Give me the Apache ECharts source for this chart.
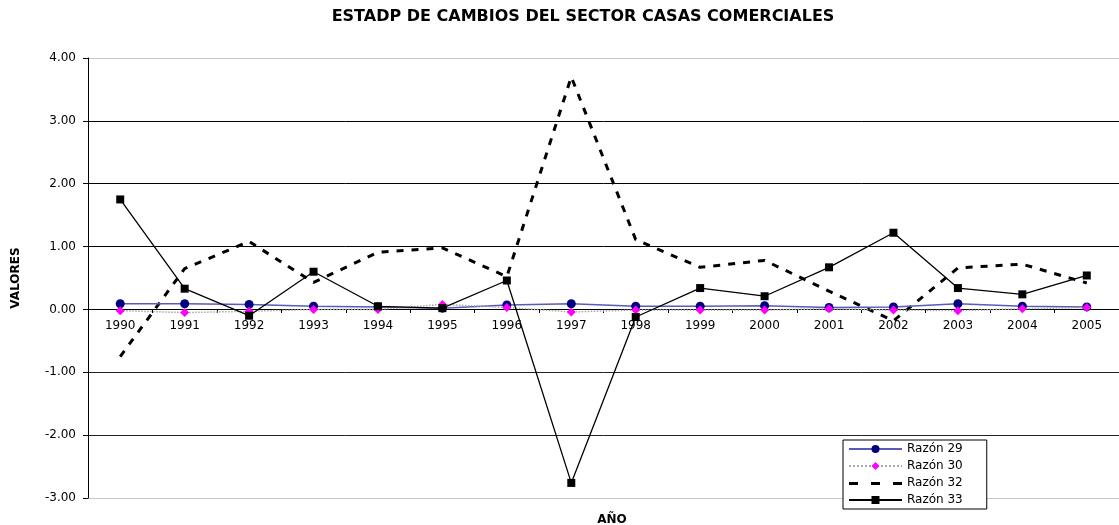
<!DOCTYPE html>
<html>
<head>
<meta charset="utf-8">
<script src="https://cdn.jsdelivr.net/npm/echarts@6/dist/echarts.min.js"></script>
<style>
  html, body { margin: 0; padding: 0; background: #fff; }
  #chart { width: 1119px; height: 525px; }
</style>
</head>
<body>
<div id="chart"></div>
<script>
const years = ['1990', '1991', '1992', '1993', '1994', '1995', '1996', '1997',
  '1998', '1999', '2000', '2001', '2002', '2003', '2004', '2005'];
const razon29 = [0.09, 0.09, 0.08, 0.05, 0.04, 0.02, 0.07, 0.09, 0.05, 0.05, 0.06, 0.03, 0.04, 0.09, 0.05, 0.04];
const razon30 = [-0.02, -0.05, -0.03, 0.00, 0.00, 0.08, 0.03, -0.04, -0.01, -0.01, -0.01, 0.01, -0.01, -0.02, 0.01, 0.03];
const razon32 = [-0.75, 0.65, 1.08, 0.43, 0.91, 0.98, 0.52, 3.70, 1.11, 0.67, 0.78, 0.29, -0.18, 0.66, 0.72, 0.42];
const razon33 = [1.75, 0.33, -0.10, 0.60, 0.05, 0.02, 0.46, -2.76, -0.12, 0.34, 0.21, 0.67, 1.22, 0.34, 0.24, 0.54];

const FONT = 'DejaVu Sans';
// dashed legend icon, with tiny corner specks so the path keeps its box
const dashIcon = 'path://M0,0h0.1v0.1h-0.1z M0,4h9v3h-9z M22,4h9v3h-9z M44,4h9v3h-9z M52.9,9.9h0.1v0.1h-0.1z';

const chart = echarts.init(document.getElementById('chart'));

const option = {
  backgroundColor: '#fff',
  animation: false,
  textStyle: { fontFamily: FONT },
  title: [
    {
      text: 'ESTADP DE CAMBIOS DEL SECTOR CASAS COMERCIALES',
      left: 578,
      top: 4,
      textAlign: 'center',
      textStyle: { fontFamily: FONT, fontSize: 16, fontWeight: 'bold', color: '#000' }
    },
    {
      text: 'AÑO',
      left: 607,
      top: 509,
      textAlign: 'center',
      textStyle: { fontFamily: FONT, fontSize: 12, fontWeight: 'bold', color: '#000' }
    }
  ],
  grid: {
    left: 88,
    top: 58,
    width: 1039,
    height: 440,
    containLabel: false
  },
  legend: {
    orient: 'vertical',
    left: 843,
    top: 440,
    padding: [3, 24, 3, 5],
    itemGap: 5,
    itemWidth: 53,
    itemHeight: 10,
    borderColor: '#000',
    borderWidth: 1,
    backgroundColor: '#fff',
    textStyle: { fontFamily: FONT, fontSize: 12, color: '#000', lineHeight: 12 },
    data: [
      { name: 'Razón 29' },
      { name: 'Razón 30' },
      { name: 'Razón 32', icon: dashIcon, itemStyle: { color: '#000' } },
      { name: 'Razón 33' }
    ]
  },
  xAxis: {
    type: 'category',
    data: years,
    boundaryGap: true,
    position: 'bottom',
    offset: -189,
    axisLine: { onZero: false, lineStyle: { color: '#000', width: 1 } },
    axisTick: { show: true, length: 4, inside: false, alignWithLabel: false, lineStyle: { color: '#000' } },
    axisLabel: { color: '#000', fontFamily: FONT, fontSize: 12, margin: 11, interval: 0 },
    splitLine: { show: false }
  },
  yAxis: {
    type: 'value',
    min: -3,
    max: 4,
    interval: 1,
    name: 'VALORES',
    nameLocation: 'middle',
    nameRotate: 90,
    nameGap: 66,
    nameTextStyle: { fontFamily: FONT, fontSize: 12, fontWeight: 'bold', color: '#000' },
    axisLine: { show: true, lineStyle: { color: '#000', width: 1 } },
    axisTick: { show: true, length: 5, lineStyle: { color: '#000' } },
    axisLabel: {
      color: '#000',
      fontFamily: FONT,
      fontSize: 12,
      margin: 12,
      formatter: v => v.toFixed(2)
    },
    splitLine: {
      show: true,
      lineStyle: {
        color: ['#c8c8c8', '#222', '#222', '#000', '#000', '#000', '#000', '#c8c8c8'],
        width: 1
      }
    }
  },
  series: [
    {
      name: 'Razón 29',
      type: 'line',
      data: razon29,
      symbol: 'circle',
      symbolSize: 9,
      itemStyle: { color: '#000080' },
      lineStyle: { color: '#5a5ab8', width: 1.5 },
      z: 3
    },
    {
      name: 'Razón 30',
      type: 'line',
      data: razon30,
      symbol: 'diamond',
      symbolSize: 9,
      itemStyle: { color: '#ff00ff' },
      lineStyle: { color: '#a8a8a8', width: 1.5, type: 'dotted' },
      z: 4
    },
    {
      name: 'Razón 32',
      type: 'line',
      data: razon32,
      symbol: 'none',
      itemStyle: { color: '#000' },
      lineStyle: { color: '#000', width: 3, type: [7, 8] },
      z: 2
    },
    {
      name: 'Razón 33',
      type: 'line',
      data: razon33,
      symbol: 'rect',
      symbolSize: 8,
      itemStyle: { color: '#000' },
      lineStyle: { color: '#000', width: 1.3 },
      z: 5
    }
  ]
};

chart.setOption(option);
</script>
</body>
</html>
